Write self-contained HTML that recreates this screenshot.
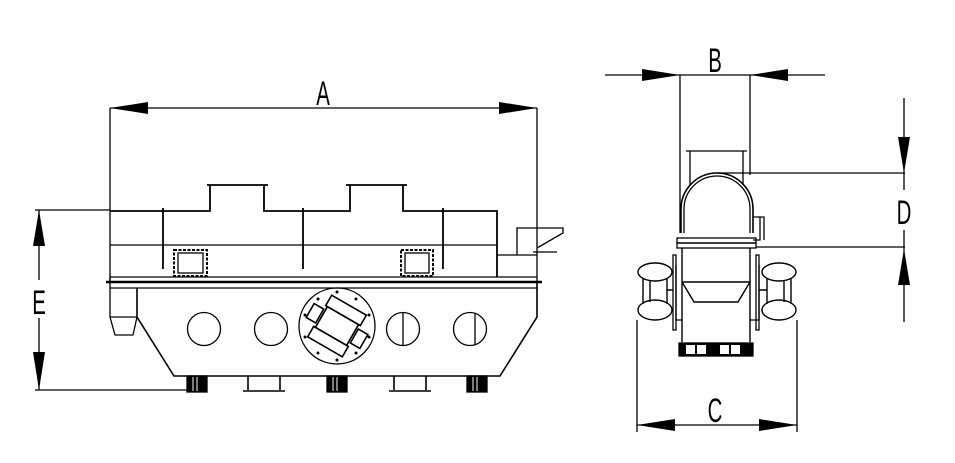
<!DOCTYPE html>
<html><head><style>body{margin:0;background:#fff}svg{display:block}text{font-family:"Liberation Sans",sans-serif;font-size:34px;fill:#000}</style></head>
<body>
<svg width="955" height="463" viewBox="0 0 955 463" xmlns="http://www.w3.org/2000/svg" fill="none" stroke="#000" stroke-width="1.3">
<!-- A dimension -->
<line x1="110" y1="108" x2="537" y2="108"/>
<polygon points="110,108 148,102 148,114" fill="#000" stroke="none"/>
<polygon points="537,108 499,102 499,114" fill="#000" stroke="none"/>
<line x1="110" y1="108" x2="110" y2="283"/>
<line x1="537" y1="108" x2="537" y2="282"/>
<text x="0" y="0" stroke="none" text-anchor="middle" transform="translate(323 105) scale(0.6 1)">A</text>
<!-- E dimension -->
<line x1="35" y1="210" x2="110" y2="210"/>
<line x1="35" y1="390" x2="187" y2="390"/>
<line x1="39" y1="210" x2="39" y2="280"/>
<line x1="39" y1="318" x2="39" y2="390"/>
<polygon points="39,210 33,246 45,246" fill="#000" stroke="none"/>
<polygon points="39,390 33,352 45,352" fill="#000" stroke="none"/>
<text x="0" y="0" stroke="none" text-anchor="middle" transform="translate(39 314) scale(0.6 1)">E</text>
<!-- top outline -->
<path d="M110,211 H210 V185 M207,185 H268 M264,185 V211 H350 V185 M346,185 H407 M403,185 V211 H497 V277" stroke-width="1.8"/>
<line x1="110" y1="245" x2="497" y2="245"/>
<path d="M163,208V269 M303,208V269 M443,208V269" stroke-width="1.8"/>
<rect x="174" y="250" width="33" height="26" stroke-width="2" stroke-dasharray="3 1.5"/>
<rect x="178" y="253" width="25" height="20"/>
<rect x="401" y="250" width="32" height="26" stroke-width="2" stroke-dasharray="3 1.5"/>
<rect x="405" y="253" width="24" height="20"/>
<!-- rails -->
<line x1="110" y1="277" x2="537" y2="277"/>
<line x1="106" y1="282" x2="542" y2="282" stroke-width="2.6"/>
<line x1="110" y1="288" x2="537" y2="288"/>
<!-- body -->
<path d="M137,288 V317 L174,376 H500 L537,317 V282" stroke-width="1.6"/>
<path d="M110,277 V317 L115,335 H133 L137,317 M110,317 H137"/>
<!-- right outlet -->
<path d="M497,255 H537 M517,255 V228 H563 V233 L537,248 M533,252 H557"/>
<!-- circles -->
<circle cx="204" cy="329" r="16.5"/>
<circle cx="271" cy="329" r="16.5"/>
<circle cx="403" cy="329" r="16.5"/><line x1="403" y1="313" x2="403" y2="345"/>
<circle cx="470" cy="329" r="16.5"/><line x1="475" y1="313" x2="475" y2="345"/>
<circle cx="337" cy="326" r="38"/>
<g fill="#000" stroke="none">
<circle cx="337" cy="292" r="1.5"/><circle cx="337" cy="360" r="1.5"/><circle cx="305" cy="315" r="1.5"/><circle cx="369" cy="315" r="1.5"/><circle cx="305" cy="337" r="1.5"/><circle cx="369" cy="337" r="1.5"/><circle cx="318" cy="299" r="1.5"/><circle cx="356" cy="299" r="1.5"/><circle cx="318" cy="353" r="1.5"/><circle cx="356" cy="353" r="1.5"/>
</g>
<g transform="rotate(30 337 326)" stroke-width="1.6">
<rect x="317" y="302" width="40" height="12"/>
<rect x="317" y="338" width="40" height="12"/>
<rect x="319" y="314" width="36" height="24"/>
<rect x="306" y="318" width="11" height="16"/>
<rect x="357" y="318" width="11" height="16"/>
</g>
<!-- feet -->
<g fill="#000">
<rect x="187" y="376" width="20" height="16"/>
<rect x="327" y="376" width="20" height="16"/>
<rect x="467" y="376" width="20" height="16"/>
</g>
<g stroke="#fff" stroke-width="1"><path d="M193,377V391 M197,377V391 M333,377V391 M337,377V391 M473,377V391 M477,377V391"/></g>
<path d="M248,376 V390 M280,376 V390 M243,391 H285 M394,376 V390 M426,376 V390 M389,391 H431" stroke-width="1.6"/>

<!-- RIGHT VIEW -->
<line x1="605" y1="75" x2="825" y2="75"/>
<polygon points="680,75 642,69 642,81" fill="#000" stroke="none"/>
<polygon points="750,75 788,69 788,81" fill="#000" stroke="none"/>
<line x1="680" y1="75" x2="680" y2="233"/>
<line x1="750" y1="75" x2="750" y2="175"/>
<text x="0" y="0" stroke="none" text-anchor="middle" transform="translate(715 72) scale(0.6 1)">B</text>
<path d="M686,151 H747 M690,151 V185 M743,151 V185"/>
<path d="M681,233 V209 A36,36 0 0 1 753,209 V233" stroke-width="1.6"/>
<path d="M684,233 V209 A33,33 0 0 1 750,209 V233"/>
<path d="M753,217 H760 V240 H753 M760,217 H764 V240"/>
<line x1="716" y1="173" x2="905" y2="173"/>
<line x1="756" y1="247" x2="905" y2="247"/>
<line x1="904" y1="98" x2="904" y2="190"/>
<line x1="904" y1="230" x2="904" y2="322"/>
<polygon points="904,173 898,137 910,137" fill="#000" stroke="none"/>
<polygon points="904,249 898,285 910,285" fill="#000" stroke="none"/>
<text x="0" y="0" stroke="none" text-anchor="middle" transform="translate(904 224) scale(0.6 1)">D</text>
<rect x="677" y="243" width="79" height="5"/>
<rect x="677" y="238" width="79" height="5"/>
<path d="M682,248 V342 M750,248 V342 M682,282 H750 L738,302 H694 L682,282" stroke-width="1.4"/>
<!-- flanges -->
<rect x="673" y="255" width="3" height="75"/>
<rect x="756" y="255" width="3" height="75"/>
<path d="M676,265 V320 H682 M759,265 V320 H750"/>
<!-- motors -->
<g stroke-width="1.4">
<ellipse cx="655" cy="272" rx="17" ry="9"/>
<ellipse cx="655" cy="310" rx="17" ry="10"/>
<path d="M643,279 V304 M667,279 V304 M650,281 V302 M667,290 H673"/>
<ellipse cx="779" cy="272" rx="17" ry="9"/>
<ellipse cx="779" cy="310" rx="17" ry="10"/>
<path d="M767,279 V304 M791,279 V304 M784,281 V302 M767,290 H759"/>
</g>
<!-- bottom -->
<rect x="679" y="343" width="74" height="13" fill="#000"/>
<g fill="#fff" stroke="none"><rect x="686" y="345" width="9" height="9"/><rect x="697" y="345" width="9" height="9"/><rect x="720" y="345" width="9" height="9"/><rect x="731" y="345" width="9" height="9"/></g>
<line x1="637" y1="320" x2="637" y2="432"/>
<line x1="797" y1="320" x2="797" y2="432"/>
<line x1="637" y1="425" x2="797" y2="425"/>
<polygon points="637,425 675,419 675,431" fill="#000" stroke="none"/>
<polygon points="797,425 759,419 759,431" fill="#000" stroke="none"/>
<text x="0" y="0" stroke="none" text-anchor="middle" transform="translate(715 422) scale(0.6 1)">C</text>
</svg>
</body></html>
